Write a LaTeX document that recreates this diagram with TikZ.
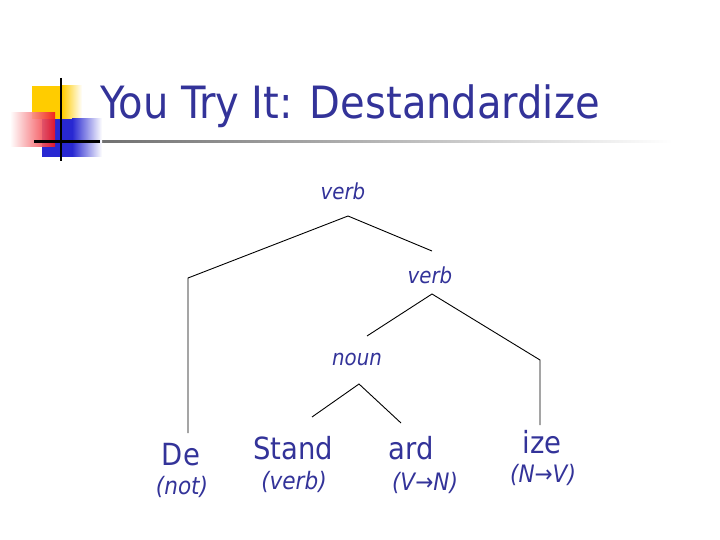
\documentclass[tikz,border=0pt]{standalone}
\usepackage{fontspec}
\setmainfont{DejaVu Sans Condensed}
\definecolor{ink}{RGB}{51,51,153}
\definecolor{sun}{RGB}{255,204,0}
\definecolor{fire}{RGB}{240,20,30}
\definecolor{sea}{RGB}{40,40,210}
\tikzset{
	cat/.style={font=\fontsize{22}{24}\selectfont\itshape, text=ink},
	morph/.style={font=\fontsize{30.5}{32}\selectfont, text=ink},
	gloss/.style={font=\fontsize{24}{26}\selectfont\itshape, text=ink},
	branch/.style={line width=0.9pt}
}
\begin{document}
\begin{tikzpicture}[x=1pt, y=-1pt]
		\useasboundingbox (0,0) rectangle (720,540);
		% logo and rule
		\shade[left color=gray!80!black, right color=white] (60,140.3) rectangle (672,143);
		\fill[sun] (32,86) rectangle (62,119);
		\shade[left color=sun, right color=white] (62,86) rectangle (82,119);
		\fill[sea] (42,119) rectangle (72,157);
		\shade[left color=sea, right color=white] (72,119) rectangle (102,157);
		\shade[left color=white, right color=fire, opacity=0.9] (10,113) rectangle (55,147);
		\draw[line width=2.2pt] (61,78) -- (61,161);
		\draw[line width=2.2pt] (34,141.5) -- (100,141.5);
		\node[anchor=base west, text=ink, font=\fontsize{44.5}{48}\selectfont, inner sep=0] at (100,119)(title){You Try It: Destandardize};
		% labels
		\node[cat] at (343,191)(v0){verb};
		\node[cat] at (430,275)(v1){verb};
		\node[cat] at (357,359)(n0){noun};
		\node[morph] at (181,455)(de){De};
		\node[gloss] at (182,487)(not){(not)};
		\node[morph] at (293,448)(stand){Stand};
		\node[gloss] at (294,482)(sverb){(verb)};
		\node[morph] at (411,448)(ard){ard};
		\node[gloss] at (425,483)(vn){(V→N)};
		\node[morph] at (542,442)(ize){ize};
		\node[gloss] at (543,475)(nv){(N→V)};
		% branches
		\coordinate (r0) at (348,216);
		\coordinate (r0l) at (188,278);
		\coordinate (r0d) at (188,433);
		\coordinate (r0r) at (432,251);
		\coordinate (r1) at (432,294);
		\coordinate (r1l) at (367,336);
		\coordinate (r1r) at (540,360);
		\coordinate (r1d) at (540,425);
		\coordinate (r2) at (359,384);
		\coordinate (r2l) at (312,417);
		\coordinate (r2r) at (401,423);
		\draw[branch] (r0d)--(r0l)--(r0)--(r0r);
		\draw[branch] (r1l)--(r1)--(r1r)--(r1d);
		\draw[branch] (r2l)--(r2)--(r2r);
	\end{tikzpicture}
\end{document}
